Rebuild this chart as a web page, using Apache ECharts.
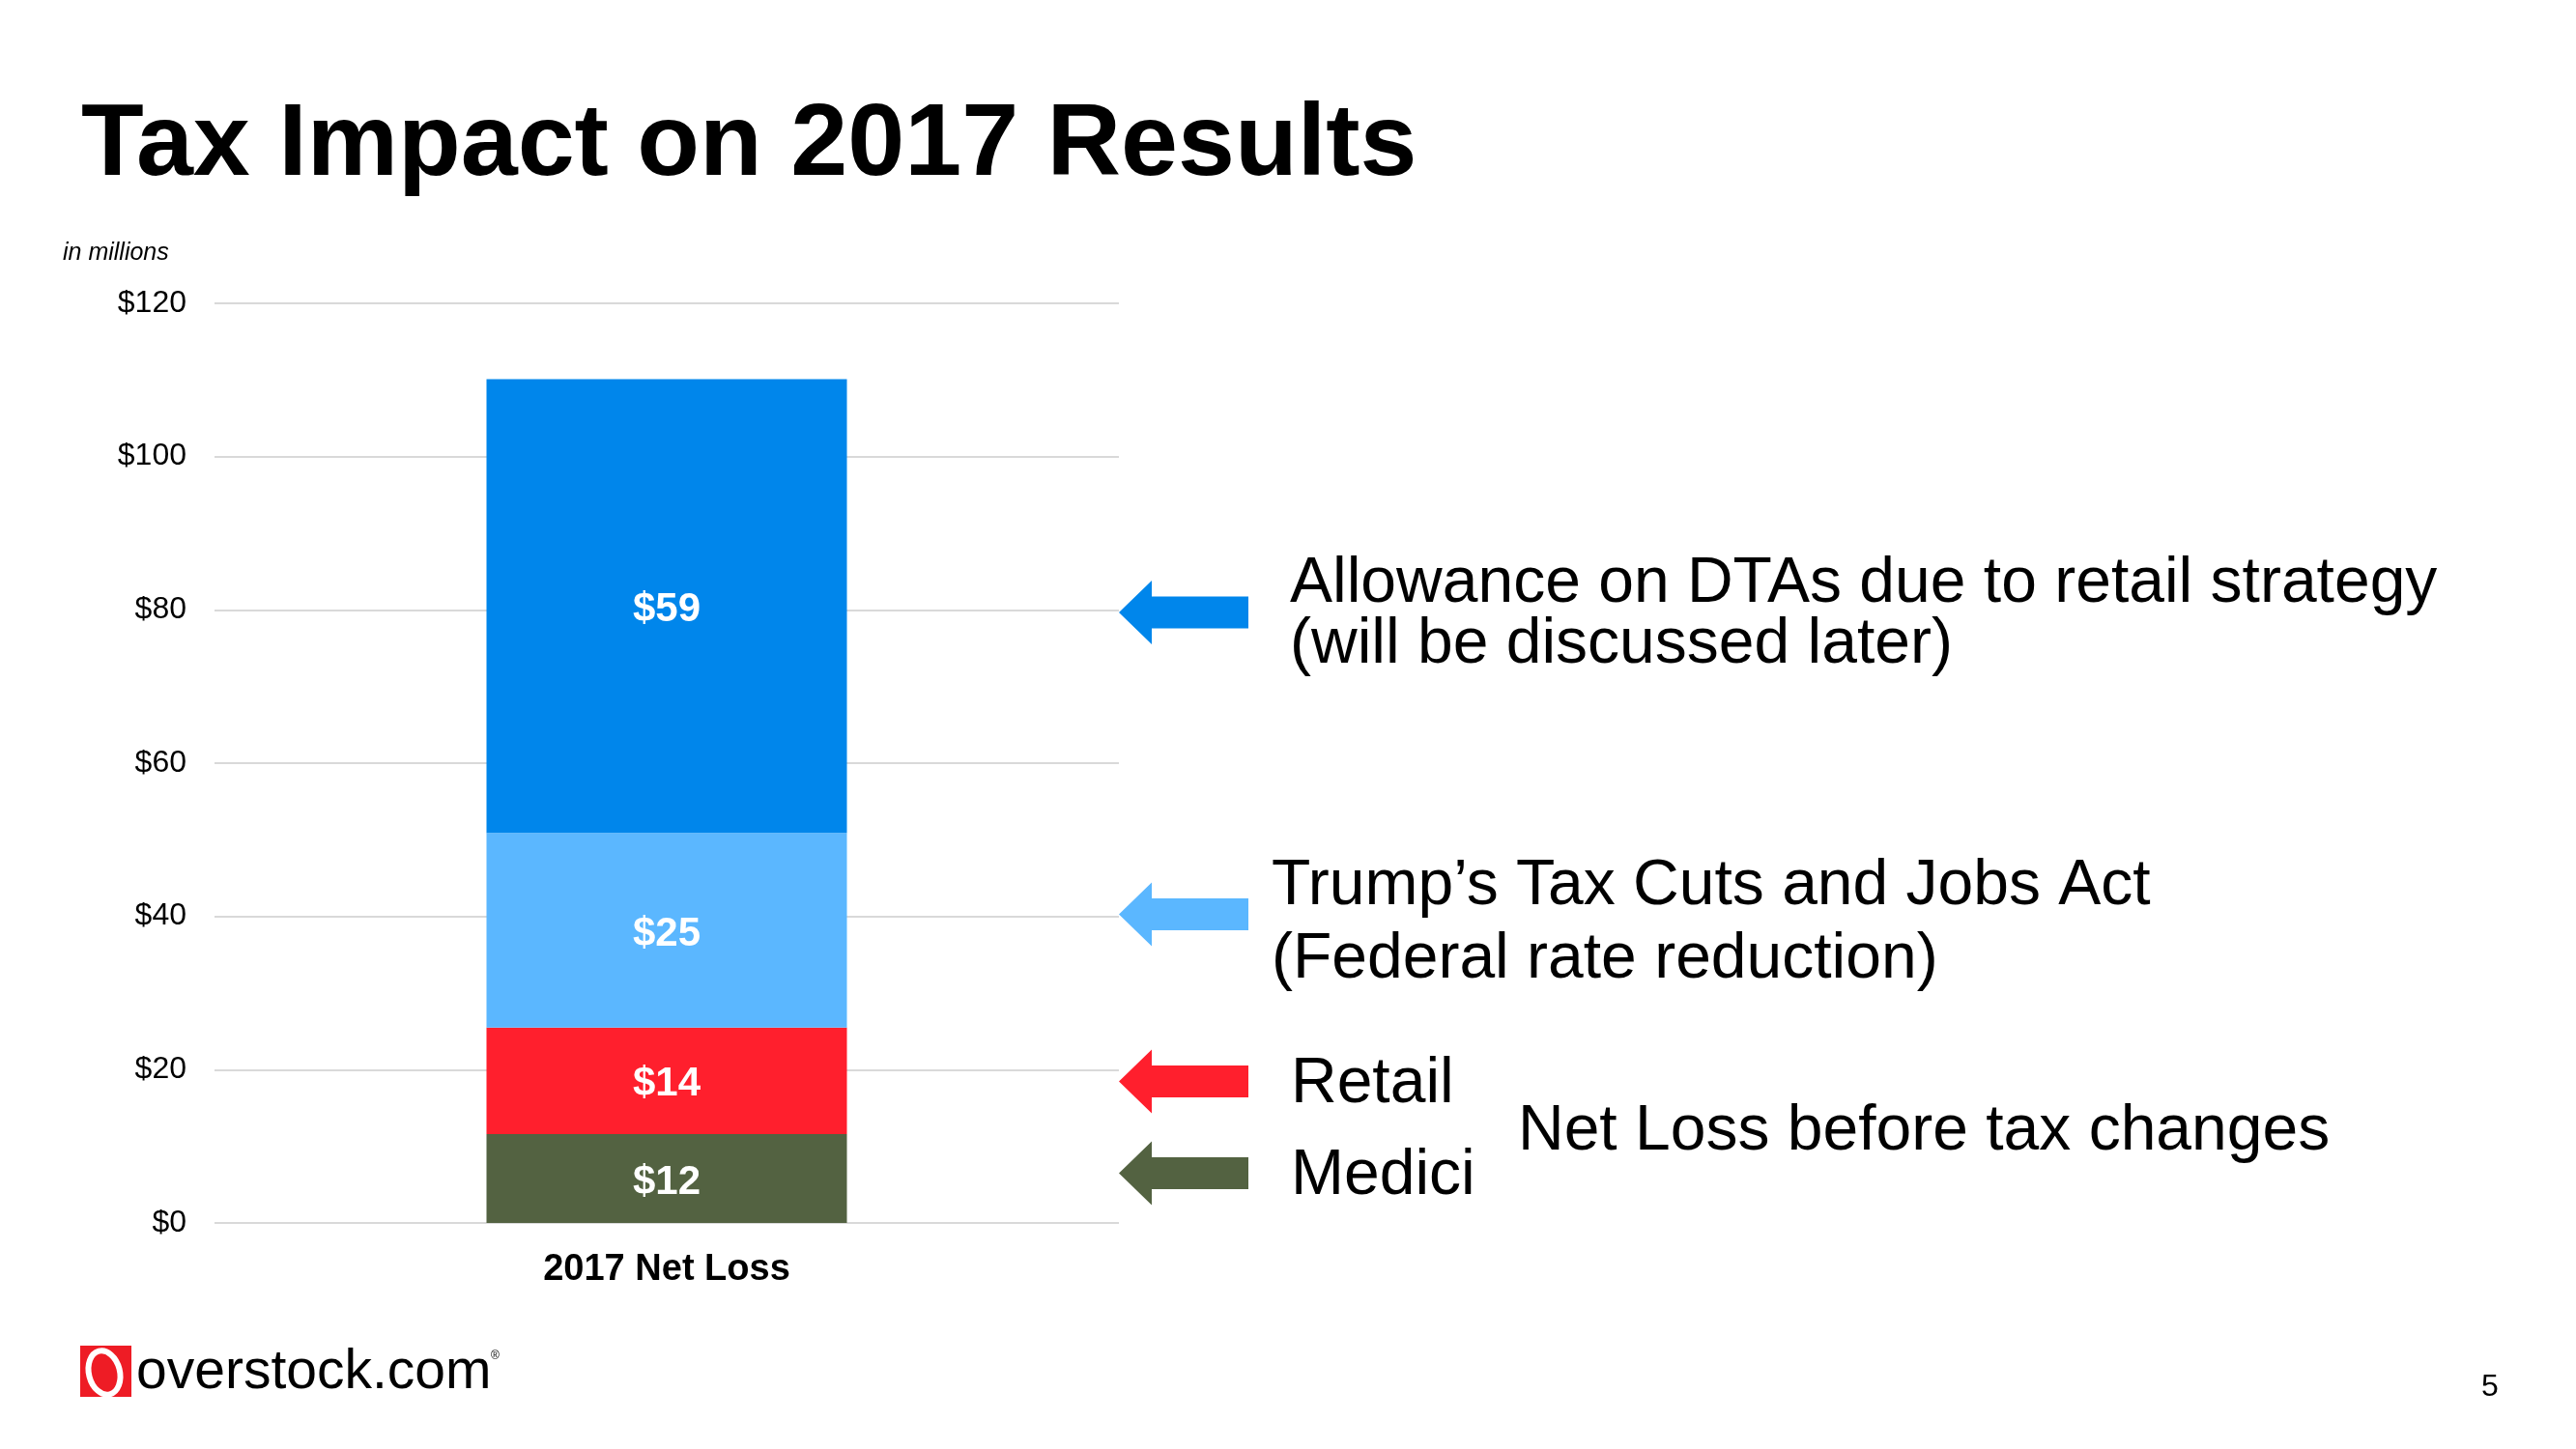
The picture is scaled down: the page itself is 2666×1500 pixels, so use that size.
<!DOCTYPE html>
<html>
<head>
<meta charset="utf-8">
<script src="https://cdn.jsdelivr.net/npm/echarts@6/dist/echarts.min.js"></script>
<style>
  html, body { margin: 0; padding: 0; background: #ffffff; }
  #chart { width: 2666px; height: 1500px; }
</style>
</head>
<body>
<div id="chart"></div>
<script>
// ---- Data ----
var categories = ['2017 Net Loss'];
var seriesNames = ['Medici', 'Retail', "Trump’s Tax Cuts and Jobs Act", 'Allowance on DTAs'];
var mediciValues = [11.6];
var retailValues = [13.9];
var trumpValues = [25.4];
var allowanceValues = [59.2];
var yTicks = [0, 20, 40, 60, 80, 100, 120];

var colors = {
  medici: '#536241',
  retail: '#FF1F2D',
  trump: '#5BB7FF',
  allowance: '#0086EB'
};

var FONT = '"Liberation Sans", Arial, Helvetica, sans-serif';

var chart = echarts.init(document.getElementById('chart'), null, { renderer: 'canvas' });

function barSeries(name, data, color) {
  return {
    name: name,
    type: 'bar',
    stack: 'total',
    data: data,
    barWidth: 373,
    itemStyle: { color: color },
    label: {
      show: true,
      position: 'inside',
      offset: [0, 4],
      color: '#ffffff',
      fontFamily: FONT,
      fontWeight: 'bold',
      fontSize: 42,
      formatter: function (p) { return '$' + Math.round(p.value); }
    },
    emphasis: { disabled: true },
    animation: false
  };
}

function arrow(cy, color) {
  return {
    type: 'polygon',
    shape: {
      points: [
        [1158, cy],
        [1192, cy - 33],
        [1192, cy - 16.5],
        [1292, cy - 16.5],
        [1292, cy + 16.5],
        [1192, cy + 16.5],
        [1192, cy + 33]
      ]
    },
    style: { fill: color }
  };
}

function txt(x, y, text, size, opts) {
  opts = opts || {};
  return {
    type: 'text',
    x: x,
    y: y,
    style: {
      text: text,
      fill: opts.fill || '#000000',
      font: (opts.italic ? 'italic ' : '') + (opts.bold ? 'bold ' : '') + size + 'px ' + FONT,
      textAlign: opts.align || 'left',
      textVerticalAlign: 'middle'
    }
  };
}

var option = {
  backgroundColor: '#ffffff',
  animation: false,
  grid: {
    left: 222,
    right: 2666 - 1158,
    top: 314,
    bottom: 1500 - 1266,
    containLabel: false
  },
  xAxis: {
    type: 'category',
    data: categories,
    axisLine: { show: false },
    axisTick: { show: false },
    axisLabel: {
      color: '#000000',
      fontFamily: FONT,
      fontWeight: 'bold',
      fontSize: 38,
      margin: 30
    }
  },
  yAxis: {
    type: 'value',
    min: yTicks[0],
    max: yTicks[yTicks.length - 1],
    interval: yTicks[1] - yTicks[0],
    axisLine: { show: false },
    axisTick: { show: false },
    splitLine: { lineStyle: { color: '#D9D9D9', width: 2 } },
    axisLabel: {
      color: '#000000',
      fontFamily: FONT,
      fontSize: 32,
      margin: 29,
      formatter: function (v) { return '$' + v; }
    }
  },
  series: [
    barSeries(seriesNames[0], mediciValues, colors.medici),
    barSeries(seriesNames[1], retailValues, colors.retail),
    barSeries(seriesNames[2], trumpValues, colors.trump),
    barSeries(seriesNames[3], allowanceValues, colors.allowance)
  ],
  graphic: [
    // Title
    txt(84, 152, 'Tax Impact on 2017 Results', 106, { bold: true }),
    // units note
    txt(65, 262, 'in millions', 25, { italic: true }),
    // arrows
    arrow(634, colors.allowance),
    arrow(946.5, colors.trump),
    arrow(1119.5, colors.retail),
    arrow(1214.5, colors.medici),
    // annotation texts
    txt(1335, 605, 'Allowance on DTAs due to retail strategy', 66),
    txt(1335, 668, '(will be discussed later)', 66),
    txt(1316, 918, 'Trump’s Tax Cuts and Jobs Act', 66),
    txt(1316, 994, '(Federal rate reduction)', 66),
    txt(1336, 1123, 'Retail', 66),
    txt(1336, 1218, 'Medici', 66),
    txt(1571, 1172, 'Net Loss before tax changes', 66),
    // logo
    {
      type: 'rect',
      shape: { x: 83, y: 1393, width: 53, height: 53 },
      style: { fill: '#EE1C25' }
    },
    {
      type: 'ellipse',
      shape: { cx: 108, cy: 1421, rx: 16, ry: 23 },
      rotation: 0.25,
      originX: 108,
      originY: 1421,
      style: { fill: 'none', stroke: '#ffffff', lineWidth: 6 }
    },
    txt(141, 1421, 'overstock.com', 57),
    txt(508, 1404, '®', 12),
    // page number
    txt(2577, 1436, '5', 32, { align: 'center' })
  ]
};

chart.setOption(option);
</script>
</body>
</html>
